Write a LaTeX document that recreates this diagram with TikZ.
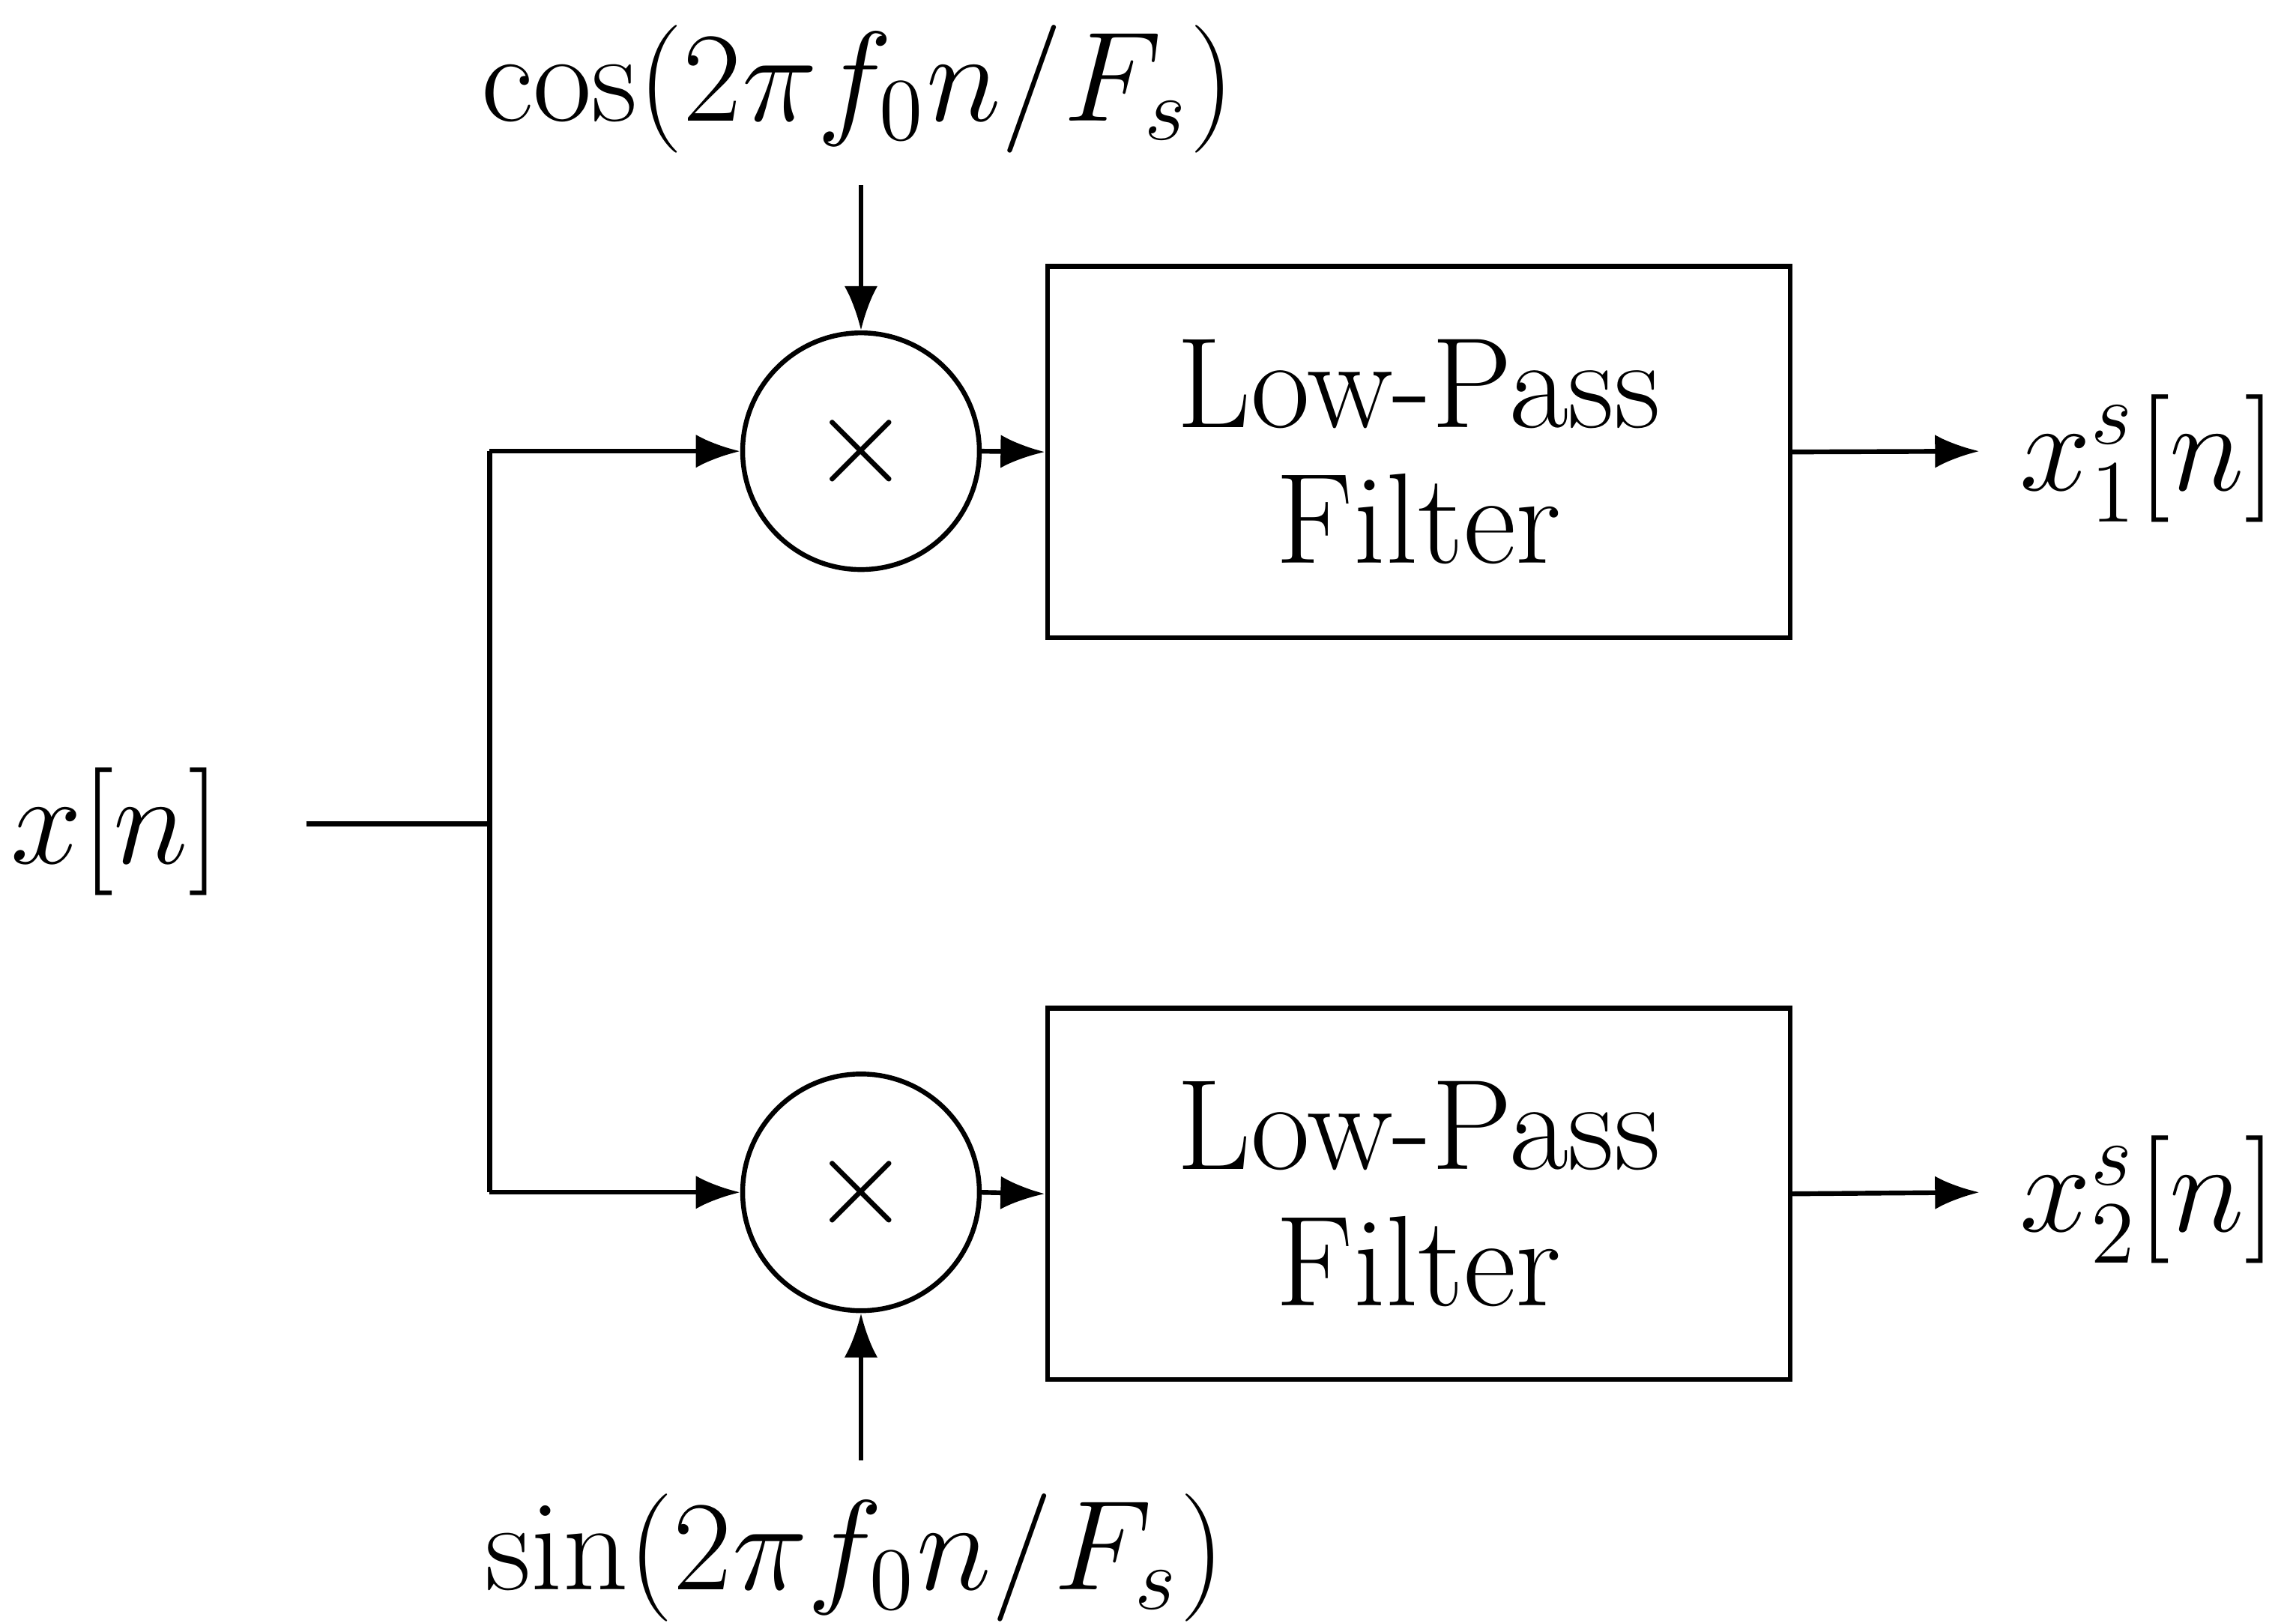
\documentclass[tikz,border=0pt]{standalone}
\usetikzlibrary{arrows.meta}
\begin{document}
\begin{tikzpicture}[x=0.2pt,y=-0.2pt,
  every node/.style={font=\fontsize{17.4}{18.4}\selectfont},
  ln/.style={line width=0.65pt},
  arr/.style={ln,-{Latex[length=6pt,width=4.5pt]}},
  mix/.style={circle,draw,line width=0.65pt,minimum size=32pt,inner sep=0pt},
  lpf/.style={draw,line width=0.65pt,minimum width=100.4pt,minimum height=50.2pt,align=center,inner sep=0pt}]
\useasboundingbox (0,0) rectangle (1552,1097);
\node (x) at (78,562) {$x[n]$};
\coordinate (xs) at (207,557);
\coordinate (br) at (331,557);
\coordinate (bt) at (331,305);
\coordinate (bb) at (331,806);
\node[mix] (m1) at (582,305) {$\times$};
\node[mix] (m2) at (582,806) {$\times$};
\node[lpf] (f1) at (959,305.5) {Low-Pass\\Filter};
\node[lpf] (f2) at (959,807) {Low-Pass\\Filter};
\node (y1) at (1452,310) {$x_1^s[n]$};
\node (y2) at (1452,811) {$x_2^s[n]$};
\coordinate (o1) at (1338,305);
\coordinate (o2) at (1338,806);
\node (c) at (580,60) {$\cos(2\pi f_0 n/F_s)$};
\node (s) at (578,1053) {$\sin(2\pi f_0 n/F_s)$};
\coordinate (ct) at (582,125);
\coordinate (sb) at (582,987);
\draw[ln] (xs) -- (br);
\draw[ln] (bt) -- (bb);
\draw[arr] (bt) -- (m1.west);
\draw[arr] (bb) -- (m2.west);
\draw[arr] (m1.east) -- (f1.west);
\draw[arr] (m2.east) -- (f2.west);
\draw[arr] (f1.east) -- (o1);
\draw[arr] (f2.east) -- (o2);
\draw[arr] (ct) -- (m1.north);
\draw[arr] (sb) -- (m2.south);
\end{tikzpicture}
\end{document}
